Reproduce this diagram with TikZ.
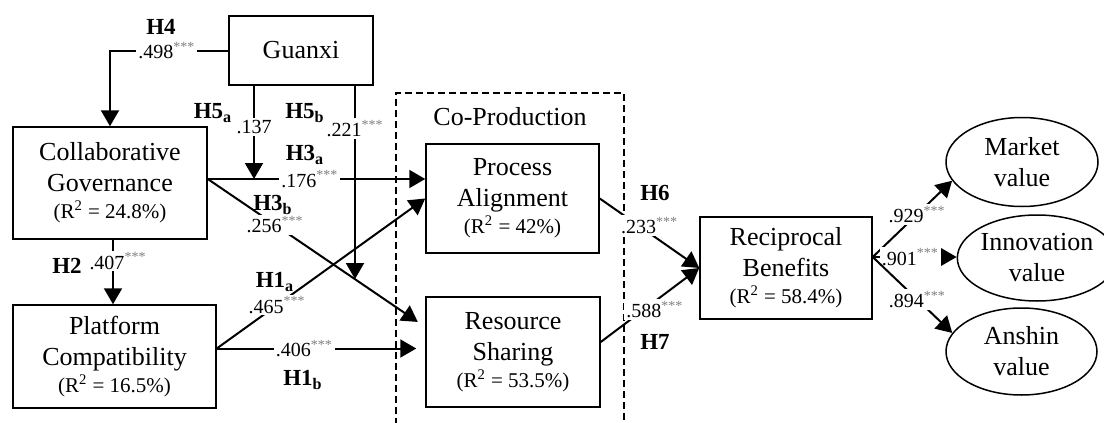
\documentclass[tikz,border=0pt]{standalone}
\usepackage{fontspec}
\setmainfont{Liberation Serif}
\usetikzlibrary{arrows.meta, calc, shapes.geometric}

\newcommand{\pv}[1]{#1\textsuperscript{\color{gray}***}}
\newcommand{\hyp}[2]{\textbf{H#1\textsubscript{#2}}}
\newcommand{\rsquare}[1]{{\fontsize{10.5}{12}\selectfont(R\textsuperscript{2} = #1\%)}}

\tikzset{
  box/.style={draw, line width=0.75pt, inner sep=0pt, align=center, font=\fontsize{13}{15.5}\selectfont},
  latent/.style={ellipse, box},
  link/.style={line width=1pt, -{Triangle[length=8pt, width=9pt]}},
  coef/.style={fill=white, inner sep=1pt, font=\fontsize{10}{11}\selectfont},
  hlab/.style={font=\fontsize{11.5}{13}\selectfont\bfseries},
}

\begin{document}
\begin{tikzpicture}[x=0.5pt, y=-0.5pt]
\useasboundingbox (0,0) rectangle (1104,423);

%% Constructs
\node[box, minimum width=72pt, minimum height=34.5pt] (guanxi) at (301,50.5) {Guanxi};
\node[box, minimum width=97pt, minimum height=56pt] (collab) at (110,183) {Collaborative\\Governance\\[-2pt]\rsquare{24.8}};
\node[box, minimum width=101.5pt, minimum height=51.5pt] (platform) at (114.5,356.5) {Platform\\Compatibility\\[-2pt]\rsquare{16.5}};
\node[box, minimum width=86.5pt, minimum height=54.5pt] (process) at (512.5,198.5) {Process\\Alignment\\[-2pt]\rsquare{42}};
\node[box, minimum width=87pt, minimum height=55pt] (resource) at (513,352) {Resource\\Sharing\\[-2pt]\rsquare{53.5}};
\node[box, minimum width=86pt, minimum height=51pt] (benefits) at (786,268) {Reciprocal\\Benefits\\[-2pt]\rsquare{58.4}};

%% Co-Production frame
\draw[line width=0.6pt, dash pattern=on 3.5pt off 2pt] (396,425) -- (396,93) -- (624,93) -- (624,425);
\node[font=\fontsize{13}{15}\selectfont] (coprod) at (510,117) {Co-Production};

%% Value dimensions
\node[latent, minimum width=76pt, minimum height=44.5pt] (market) at (1022,162) {Market\\value};
\node[latent, minimum width=76pt, minimum height=43pt] (innov) at (1037,258) {Innovation\\value};
\node[latent, minimum width=75.5pt, minimum height=43.5pt] (anshin) at (1021.5,351.5) {Anshin\\value};

%% Anchor points
\coordinate (cg out) at ([yshift=2pt]collab.east);
\coordinate (pa in) at (cg out -| process.west);
\coordinate (rs in) at ([yshift=12.5pt]resource.west);
\coordinate (pc out) at ([yshift=4pt]platform.east);
\coordinate (rb out) at ([yshift=5.5pt]benefits.east);
\coordinate (m5a) at ([xshift=-23.5pt]guanxi.south);
\coordinate (m5b) at ([xshift=27pt]guanxi.south);
\coordinate (h5b end) at ($(cg out)!0.676!(rs in)$);

%% Paths
% H4
\draw[link] (guanxi.west) -| node[coef, pos=0.26] (c4) {\pv{.498}} (collab.north);
% H5a
\draw[link] (m5a) -- node[coef, pos=0.44] (c5a) {.137} (m5a |- cg out);
% H5b
\draw[link] (m5b) -- node[coef, pos=0.22] (c5b) {\pv{.221}} (m5b |- h5b end);
% H3a
\draw[link] (cg out) -- node[coef, pos=0.47] (c3a) {\pv{.176}} (pa in);
% H3b
\draw[link, shorten >=4.5pt] (cg out) -- node[coef, pos=0.31] (c3b) {\pv{.256}} (rs in);
% H2
\draw[link] ([xshift=1.5pt]collab.south) -- node[coef, pos=0.33, xshift=2.5pt] (c2) {\pv{.407}} ([xshift=1.5pt]collab.south |- platform.north);
% H1a
\draw[link] (pc out) -- node[coef, pos=0.29] (c1a) {\pv{.465}} (process.west);
% H1b
\draw[link, shorten >=4.5pt] (pc out) -- node[coef, pos=0.42] (c1b) {\pv{.406}} (pc out -| resource.west);
% H6
\draw[link] (process.east) -- node[coef, pos=0.5, yshift=4pt] (c6) {\pv{.233}} (benefits.west);
% H7
\draw[link] ([yshift=5pt]resource.east) -- node[coef, pos=0.55, yshift=-4pt] (c7) {\pv{.588}} (benefits.west);
% Outcomes
\draw[link] (rb out) -- node[coef, pos=0.56] (c8) {\pv{.929}} (market.195);
\draw[link] (rb out) -- node[coef, pos=0.45] (c9) {\pv{.901}} (rb out -| innov.west);
\draw[link] (rb out) -- node[coef, pos=0.56] (c10) {\pv{.894}} (anshin.165);

%% Hypothesis labels
\node[hlab] (h4) at (161,27) {H4};
\node[hlab] (h5a) at (213,113) {\hyp{5}{a}};
\node[hlab] (h5b) at (305,113) {\hyp{5}{b}};
\node[hlab] (h3a) at (305,155) {\hyp{3}{a}};
\node[hlab] (h3b) at (273,205) {\hyp{3}{b}};
\node[hlab] (h2) at (67,266) {H2};
\node[hlab] (h1a) at (275,282) {\hyp{1}{a}};
\node[hlab] (h1b) at (303,380) {\hyp{1}{b}};
\node[hlab] (h6) at (655,193) {H6};
\node[hlab] (h7) at (655,342) {H7};

\end{tikzpicture}
\end{document}
